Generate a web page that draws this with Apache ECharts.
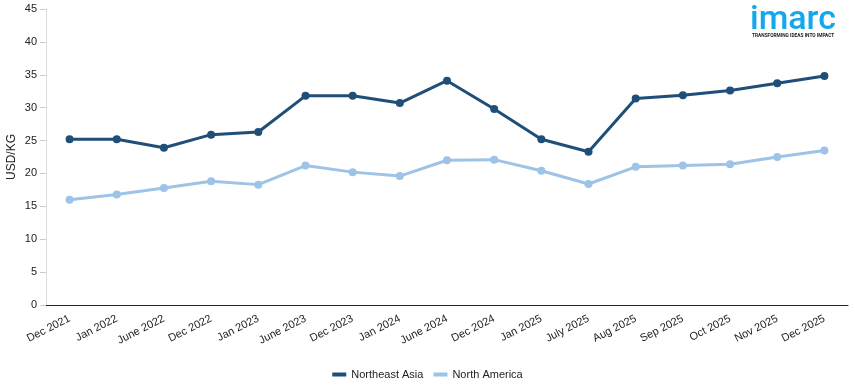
<!DOCTYPE html>
<html>
<head>
<meta charset="utf-8">
<script src="https://cdn.jsdelivr.net/npm/echarts@6/dist/echarts.min.js"></script>
<style>html,body{margin:0;padding:0;background:#fff}#c{width:855px;height:390px}</style>
</head>
<body>
<div id="c"></div>
<script>
var categories = ['Dec 2021','Jan 2022','June 2022','Dec 2022','Jan 2023','June 2023','Dec 2023','Jan 2024','June 2024','Dec 2024','Jan 2025','July 2025','Aug 2025','Sep 2025','Oct 2025','Nov 2025','Dec 2025'];
var northeastAsia = [25.2,25.2,23.9,25.9,26.3,31.8,31.8,30.7,34.1,29.8,25.2,23.3,31.4,31.9,32.6,33.7,34.8];
var northAmerica = [16.0,16.8,17.8,18.8,18.3,21.2,20.2,19.6,22.0,22.1,20.4,18.4,21.0,21.2,21.4,22.5,23.5];
var yTicks = {min:0, max:45, interval:5};

var chart = echarts.init(document.getElementById('c'));
var font = 'Liberation Sans, Arial, sans-serif';
chart.setOption({
  animation:false,
  textStyle:{fontFamily:font},
  grid:{left:46, right:7, top:9, bottom:85, containLabel:false, outerBoundsMode:'none'},
  legend:{
    bottom:5, left:'center',
    itemWidth:14, itemHeight:4, itemGap:10,
    icon:'rect',
    textStyle:{fontSize:11, color:'#222', fontFamily:font},
    data:['Northeast Asia','North America']
  },
  xAxis:{
    type:'category', data:categories, boundaryGap:true,
    axisLine:{lineStyle:{color:'#222', width:1}},
    axisTick:{alignWithLabel:true, length:6, lineStyle:{color:'#222'}},
    axisLabel:{rotate:27, fontSize:11, color:'#222', margin:13, interval:0}
  },
  yAxis:{
    type:'value', min:yTicks.min, max:yTicks.max, interval:yTicks.interval,
    name:'USD/KG', nameLocation:'middle', nameGap:28, nameMoveOverlap:false,
    nameTextStyle:{fontSize:12, color:'#222'},
    axisLine:{show:true, lineStyle:{color:'#ddd'}},
    axisTick:{show:true, length:6, lineStyle:{color:'#ccc'}},
    splitLine:{show:false},
    axisLabel:{fontSize:11, color:'#222', margin:9}
  },
  graphic:[
    {type:'text', x:750, y:3, style:{text:'imarc', fill:'#12A8F0', font:'500 34px Roboto, sans-serif', verticalAlign:'top'}},
    {type:'text', x:752, y:33, style:{text:'TRANSFORMING IDEAS INTO IMPACT', fill:'#222', font:'bold 4.8px Roboto, sans-serif', verticalAlign:'top'}}
  ],
  series:[
    {name:'Northeast Asia', type:'line', data:northeastAsia, symbol:'circle', symbolSize:8,
     lineStyle:{width:3, color:'#1F4E79'}, itemStyle:{color:'#1F4E79'}},
    {name:'North America', type:'line', data:northAmerica, symbol:'circle', symbolSize:8,
     lineStyle:{width:3, color:'#9DC3E6'}, itemStyle:{color:'#9DC3E6'}}
  ]
});
</script>
</body>
</html>
